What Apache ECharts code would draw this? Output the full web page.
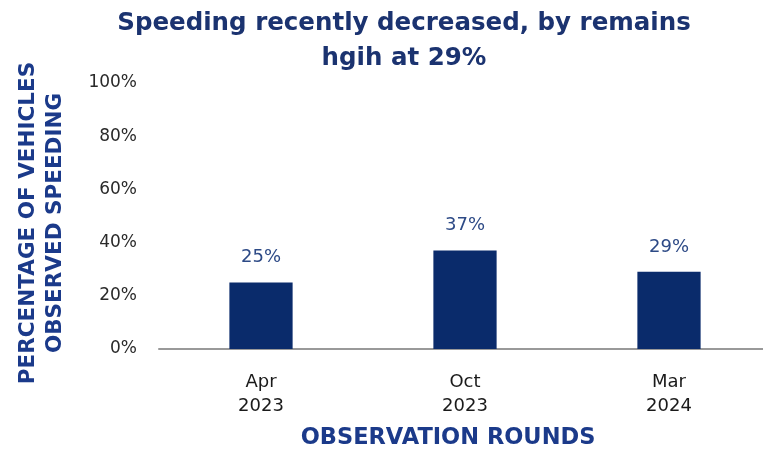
<!DOCTYPE html>
<html><head><meta charset="utf-8">
<script src="https://cdn.jsdelivr.net/npm/echarts@6/dist/echarts.min.js"></script>
<style>html,body{margin:0;padding:0;background:#fff}#c{width:763px;height:453px}</style>
</head><body><div id="c"></div>
<script>
const categories = ['Apr\n2023', 'Oct\n2023', 'Mar\n2024'];
const values = [25, 37, 29];
const yTicks = [0, 20, 40, 60, 80, 100];
const titleText = 'Speeding recently decreased, by remains\nhgih at 29%';
const yName = 'PERCENTAGE OF VEHICLES\nOBSERVED SPEEDING';
const xName = 'OBSERVATION ROUNDS';

const navy = '#0a2b6b';
const chart = echarts.init(document.getElementById('c'));
chart.setOption({
  animation: false,
  graphic: [
    {
      type: 'text', x: 404, y: 6,
      style: { text: titleText, font: 'bold 24.5px "DejaVu Sans"', fill: '#1b3370', align: 'center', lineHeight: 35 }
    },
    {
      type: 'text', x: 42, y: 223, rotation: Math.PI / 2,
      style: { text: yName, font: 'bold 21.5px "DejaVu Sans"', fill: '#1b3a8a', align: 'center', verticalAlign: 'middle', lineHeight: 27 }
    },
    {
      type: 'text', x: 448, y: 427,
      style: { text: xName, font: 'bold 22.5px "DejaVu Sans"', fill: '#1b3a8a', align: 'center' }
    }
  ],
  grid: { left: 159, top: 83, width: 612, height: 266, outerBoundsMode: 'none', containLabel: false },
  xAxis: {
    type: 'category', data: categories,
    axisLine: { lineStyle: { color: '#999', width: 2 } },
    axisTick: { show: false },
    axisLabel: { fontFamily: 'DejaVu Sans', fontSize: 18, color: '#1a1a1a', lineHeight: 24, margin: 21 }
  },
  yAxis: {
    type: 'value', min: yTicks[0], max: yTicks[yTicks.length - 1], interval: 20,
    splitLine: { show: false },
    axisLine: { show: false }, axisTick: { show: false },
    axisLabel: { formatter: '{value}%', fontFamily: 'DejaVu Sans', fontSize: 17, color: '#2a2a2a', margin: 22 }
  },
  series: [{
    type: 'bar', data: values, barWidth: '31%',
    itemStyle: { color: navy },
    label: { show: true, position: 'top', distance: 16, formatter: '{c}%',
      fontFamily: 'DejaVu Sans', fontSize: 18, color: '#2d4a86' }
  }]
});
</script></body></html>
